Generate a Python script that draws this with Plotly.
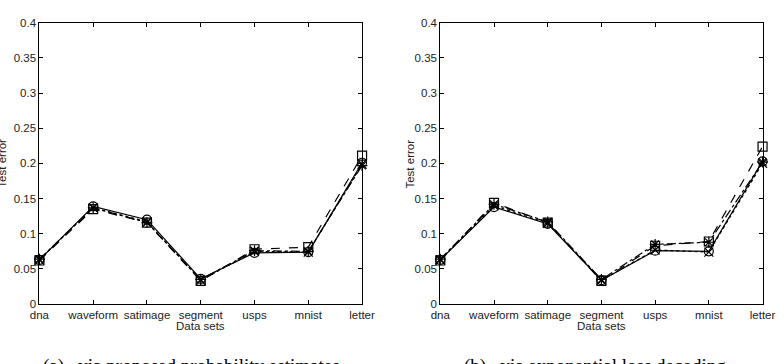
import plotly.graph_objects as go

categories = ["dna", "waveform", "satimage", "segment", "usps", "mnist", "letter"]

# (a) via proposed probability estimates
a_circle = [0.063, 0.139, 0.120, 0.036, 0.073, 0.074, 0.201]
a_square = [0.062, 0.135, 0.116, 0.033, 0.078, 0.081, 0.211]
a_star = [0.064, 0.137, 0.116, 0.035, 0.076, 0.075, 0.197]
a_x = [0.063, 0.137, 0.117, 0.034, 0.075, 0.074, 0.199]

# (b) via exponential loss decoding
b_circle = [0.063, 0.138, 0.114, 0.034, 0.076, 0.075, 0.203]
b_square = [0.062, 0.144, 0.116, 0.033, 0.083, 0.089, 0.224]
b_star = [0.064, 0.142, 0.117, 0.035, 0.085, 0.088, 0.202]
b_x = [0.063, 0.140, 0.115, 0.034, 0.077, 0.074, 0.200]

ytick_vals = [0, 0.05, 0.1, 0.15, 0.2, 0.25, 0.3, 0.35, 0.4]
ytick_text = ["0", "0.05", "0.1", "0.15", "0.2", "0.25", "0.3", "0.35", "0.4"]

W, H = 784, 364
fig = go.Figure()

styles = [
    ("solid", "circle-open"),
    ("dash", "square-open"),
    ("dashdot", "asterisk-open"),
    ("dot", "x-thin-open"),
]

xpos = list(range(len(categories)))
for sets, xa, ya in [([a_circle, a_square, a_star, a_x], "x", "y"),
                     ([b_circle, b_square, b_star, b_x], "x2", "y2")]:
    for vals, (dash, sym) in zip(sets, styles):
        fig.add_trace(go.Scatter(
            x=xpos, y=vals, xaxis=xa, yaxis=ya, mode="lines+markers",
            line=dict(color="black", width=1.2, dash=dash),
            marker=dict(symbol=sym, size=9, color="black", line=dict(width=1.2, color="black")),
            cliponaxis=False, showlegend=False,
        ))

def px_x(p):
    return p / W

def px_y(p):
    return (H - p) / H

axis_font = dict(family="Liberation Sans, Arial, sans-serif", size=11.5, color="#222")
xcommon = dict(range=[0, 6], tickvals=xpos, ticktext=categories, ticks="inside", ticklen=4,
               showline=True, linecolor="black", linewidth=1, mirror="ticks",
               showgrid=False, zeroline=False, tickfont=axis_font, tickcolor="black")
ycommon = dict(range=[0, 0.4], tickvals=ytick_vals, ticktext=ytick_text, ticks="inside", ticklen=4,
               showline=True, linecolor="black", linewidth=1, mirror="ticks",
               showgrid=False, zeroline=False, tickfont=axis_font, tickcolor="black")

ydom = [px_y(308.3), px_y(17.3)]
fig.update_layout(
    width=W, height=H,
    margin=dict(l=0, r=0, t=0, b=0),
    paper_bgcolor="white", plot_bgcolor="white",
    xaxis=dict(domain=[px_x(30.3), px_x(362.7)], anchor="y", **xcommon),
    yaxis=dict(domain=ydom, anchor="x", **ycommon),
    xaxis2=dict(domain=[px_x(443.3), px_x(775.3)], anchor="y2", **xcommon),
    yaxis2=dict(domain=ydom, anchor="x2", **ycommon),
)

cap_font = dict(family="Liberation Serif, serif", size=19, color="black")
ann = [
    dict(text="Data sets", x=px_x(196.5), y=px_y(330.5), xanchor="center", yanchor="middle", font=axis_font),
    dict(text="Data sets", x=px_x(609.3), y=px_y(330.5), xanchor="center", yanchor="middle", font=axis_font),
    dict(text="Test error", x=0, xshift=-8, y=px_y(163), textangle=-90, xanchor="center", yanchor="middle", font=axis_font),
    dict(text="Test error", x=px_x(412), y=px_y(163), textangle=-90, xanchor="center", yanchor="middle", font=axis_font),
    dict(text="(a)   via proposed probability estimates", x=px_x(32), y=px_y(359), xanchor="left", yanchor="top",
         font=cap_font),
    dict(text="(b)   via exponential loss decoding", x=px_x(466), y=px_y(359), xanchor="left", yanchor="top",
         font=cap_font),
]
for a in ann:
    a.update(xref="paper", yref="paper", showarrow=False)
fig.update_layout(annotations=ann)

fig.write_html("out.html")
